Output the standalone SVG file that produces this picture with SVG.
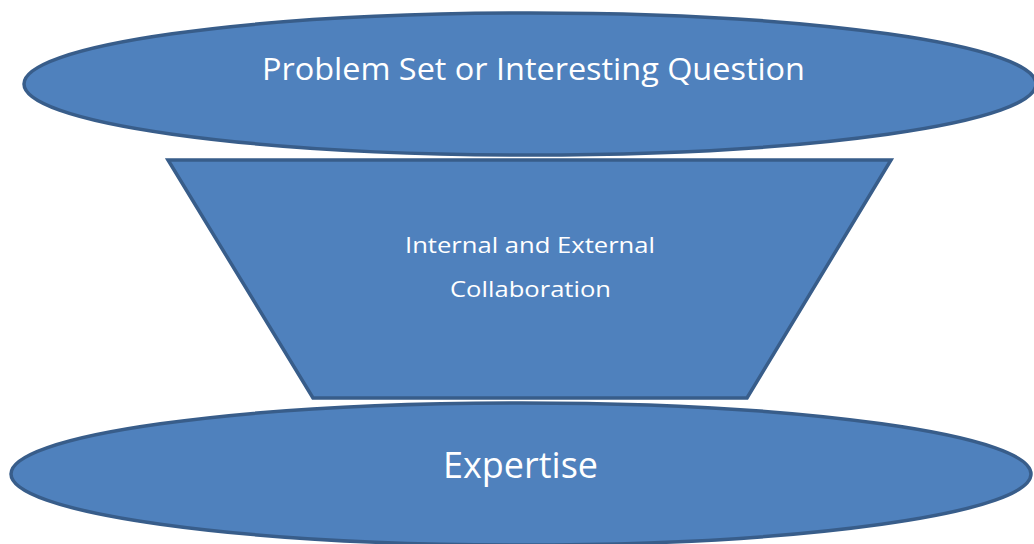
<svg xmlns="http://www.w3.org/2000/svg" width="1034" height="544" viewBox="0 0 1034 544">
<style>
.shape{fill:#4f81bd;stroke:#385d8a;stroke-width:3.5;stroke-linejoin:miter}
.lbl{fill:#ffffff;font-family:"Open Sans","Noto Sans","Liberation Sans",sans-serif;text-anchor:middle}
</style>
<rect width="1034" height="544" fill="#ffffff"/>
<g id="connectors"></g>
<g id="node-problem">
<ellipse class="shape" cx="530" cy="84" rx="506" ry="71"/>
<text class="lbl" x="533.5" y="80" font-size="31" textLength="543" lengthAdjust="spacingAndGlyphs">Problem Set or Interesting Question</text>
</g>
<g id="node-collaboration">
<polygon class="shape" points="168,160 891,160 747,398 313,398"/>
<text class="lbl" x="530" y="253" font-size="22.5" textLength="250" lengthAdjust="spacingAndGlyphs">Internal and External</text>
<text class="lbl" x="530.5" y="297" font-size="22.5" textLength="161" lengthAdjust="spacingAndGlyphs">Collaboration</text>
</g>
<g id="node-expertise">
<ellipse class="shape" cx="521" cy="474" rx="510" ry="71"/>
<text class="lbl" x="520.5" y="478" font-size="36" textLength="155" lengthAdjust="spacingAndGlyphs">Expertise</text>
</g>
</svg>
